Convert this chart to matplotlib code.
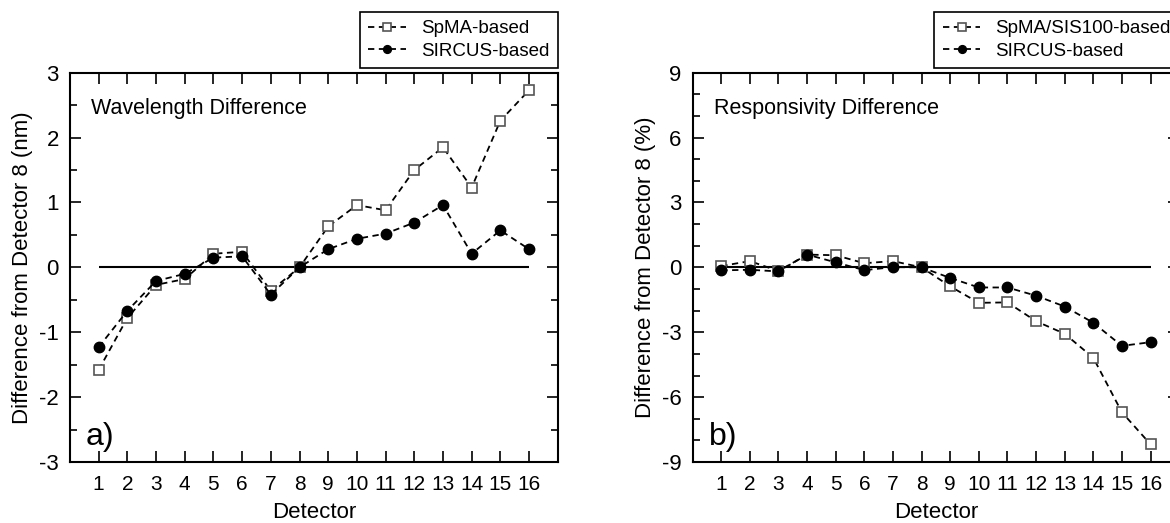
import numpy as np
import matplotlib
matplotlib.use("Agg")
import matplotlib.pyplot as plt
from matplotlib.ticker import MultipleLocator

plt.rcParams['font.family'] = ['Liberation Sans', 'DejaVu Sans']
plt.rcParams['font.size'] = 15
plt.rcParams['axes.unicode_minus'] = False

detector = np.arange(1, 17)

# wavelength difference from detector 8 (nm)
wl_spma = [-1.58, -0.78, -0.27, -0.18, 0.21, 0.24, -0.36, 0.0,
           0.63, 0.96, 0.88, 1.50, 1.85, 1.23, 2.26, 2.73]
wl_sircus = [-1.23, -0.67, -0.21, -0.10, 0.15, 0.17, -0.42, 0.0,
             0.28, 0.44, 0.52, 0.69, 0.96, 0.21, 0.57, 0.28]

# responsivity difference from detector 8 (%)
resp_spma = [0.06, 0.29, -0.17, 0.59, 0.56, 0.19, 0.29, 0.0,
             -0.88, -1.64, -1.62, -2.49, -3.07, -4.18, -6.70, -8.18]
resp_sircus = [-0.14, -0.11, -0.19, 0.59, 0.23, -0.13, 0.01, 0.0,
               -0.49, -0.93, -0.93, -1.31, -1.81, -2.56, -3.63, -3.46]

fig = plt.figure(figsize=(11.7, 5.23), dpi=100)
ax1 = fig.add_axes([0.0598, 0.1166, 0.4169, 0.7444])
ax2 = fig.add_axes([0.592, 0.1166, 0.4158, 0.7444])


def draw(ax, y_sq, y_ci, lab_sq, ylim, major, minor, ylabel, title, tag):
    ax.hlines(0, detector[0], detector[-1], colors='k', lw=1.5, zorder=1)
    ax.plot(detector, y_sq, color='k', lw=1.3, dashes=(3.5, 2.5),
            marker='s', ms=7, mfc='white', mec='#555555', mew=1.2,
            label=lab_sq, zorder=3)
    ax.plot(detector, y_ci, color='k', lw=1.3, dashes=(3.5, 2.5),
            marker='o', ms=7.5, mfc='k', mec='k',
            label='SIRCUS-based', zorder=4)

    ax.set_xlim(0, 17)
    ax.set_ylim(*ylim)
    ax.set_xticks(detector)
    ax.yaxis.set_major_locator(MultipleLocator(major))
    ax.yaxis.set_minor_locator(MultipleLocator(minor))
    ax.tick_params(axis='both', which='major', direction='in', length=8,
                   width=1.2, top=True, right=True)
    ax.tick_params(axis='y', which='minor', direction='in', length=5,
                   width=1.2, right=True)
    ax.tick_params(axis='x', which='major', pad=9, labelsize=15)
    ax.tick_params(axis='y', which='major', pad=8, labelsize=16)
    for s in ax.spines.values():
        s.set_linewidth(1.5)

    ax.set_xlabel('Detector', fontsize=16, labelpad=6)
    ax.set_ylabel(ylabel, fontsize=16, labelpad=4)
    ax.text(0.043, 0.909, title, transform=ax.transAxes, fontsize=15.5,
            va='center', ha='left')
    ax.text(0.033, 0.064, tag, transform=ax.transAxes, fontsize=23,
            va='center', ha='left')

    leg = ax.legend(loc='lower right', bbox_to_anchor=(1.0, 1.011),
                    borderaxespad=0, frameon=True, fancybox=False,
                    framealpha=1, edgecolor='k', handlelength=2.0,
                    handletextpad=0.8, labelspacing=0.3, borderpad=0.45,
                    markerscale=0.75, fontsize=13.5)
    leg.get_frame().set_linewidth(1.2)


draw(ax1, wl_spma, wl_sircus, 'SpMA-based', (-3, 3), 1, 0.5,
     'Difference from Detector 8 (nm)', 'Wavelength Difference', 'a)')
draw(ax2, resp_spma, resp_sircus, 'SpMA/SIS100-based', (-9, 9), 3, 1,
     'Difference from Detector 8 (%)', 'Responsivity Difference', 'b)')

fig.savefig('out.png', dpi=100)
